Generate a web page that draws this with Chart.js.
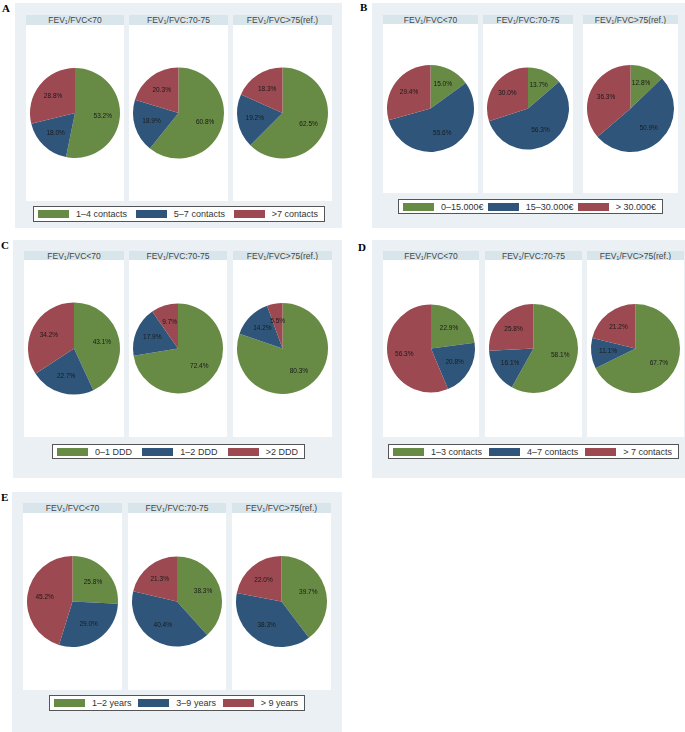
<!DOCTYPE html>
<html>
<head>
<meta charset="utf-8">
<script src="https://cdn.jsdelivr.net/npm/chart.js@4.4.1/dist/chart.umd.min.js"></script>
<style>
  body { margin: 0; width: 685px; height: 732px; background: #fff; position: relative; overflow: hidden;
         font-family: "Liberation Sans", Arial, sans-serif; }
  .letter { position: absolute; font-family: "Liberation Serif", "Times New Roman", serif; font-weight: bold; font-size: 11px; color: #000; }
  .box { position: absolute; background: #eaf0f3; }
  .head { position: absolute; background: #d8e6eb; color: #444; font-size: 8.5px; font-weight: normal; text-align: center; line-height: 10px; white-space: nowrap; }
  .head sub { font-size: 5.5px; vertical-align: -1px; line-height: 0; }
  .cell { position: absolute; background: #fff; }
  .legend { position: absolute; background: #fff; border: 1px solid #555; box-sizing: border-box;
            display: flex; justify-content: space-between; align-items: center; padding: 0 6px 0 4px; }
  .item { display: flex; align-items: center; font-size: 9px; color: #333; white-space: nowrap; }
  .sw { width: 31px; height: 8px; margin-right: 7px; flex: none; }
</style>
</head>
<body>
<script>
// groups (same for every panel)
const groups = ["FEV<sub>1</sub>/FVC&lt;70", "FEV<sub>1</sub>/FVC:70-75", "FEV<sub>1</sub>/FVC&gt;75(ref.)"];
const colors = ["#678a45", "#2f567a", "#9c4951"];

// A: contacts
const catsA = ["1–4 contacts", "5–7 contacts", ">7 contacts"];
const valsA = [[53.2, 18.0, 28.8], [60.8, 18.9, 20.3], [62.5, 19.2, 18.3]];
// B: income
const catsB = ["0–15.000€", "15–30.000€", "> 30.000€"];
const valsB = [[15.0, 55.6, 29.4], [13.7, 56.3, 30.0], [12.8, 50.9, 36.3]];
// C: DDD
const catsC = ["0–1 DDD", "1–2 DDD", ">2 DDD"];
const valsC = [[43.1, 22.7, 34.2], [72.4, 17.9, 9.7], [80.3, 14.2, 5.5]];
// D: contacts
const catsD = ["1–3 contacts", "4–7 contacts", "> 7 contacts"];
const valsD = [[22.9, 20.8, 56.3], [58.1, 16.1, 25.8], [67.7, 11.1, 21.2]];
// E: years
const catsE = ["1–2 years", "3–9 years", "> 9 years"];
const valsE = [[25.8, 29.0, 45.2], [38.3, 40.4, 21.3], [39.7, 38.3, 22.0]];

// layout of each panel (pixels)
const panels = [
  { letter: "A", lx: 2, ly: 2, box: [15, 3, 327, 225], head: [15, 25],
    cells: [[26, 124], [129, 228], [233, 332]], bottom: 201, leg: [33, 206, 292, 16], cats: catsA, vals: valsA },
  { letter: "B", lx: 360, ly: 1, box: [372, 3, 313, 225], head: [15, 24],
    cells: [[383, 478], [483, 573], [583, 678]], bottom: 193, leg: [398, 199, 265, 15], cats: catsB, vals: valsB },
  { letter: "C", lx: 1, ly: 239, box: [13, 240, 329, 238], head: [251, 260],
    cells: [[24, 124], [129, 227], [233, 332]], bottom: 437, leg: [52, 444, 253, 15], cats: catsC, vals: valsC },
  { letter: "D", lx: 358, ly: 241, box: [372, 240, 313, 238], head: [251, 260],
    cells: [[383, 479], [485, 582], [587, 684]], bottom: 437, leg: [388, 444, 291, 15], cats: catsD, vals: valsD },
  { letter: "E", lx: 1, ly: 491, box: [12, 492, 330, 240], head: [503, 513],
    cells: [[23, 122], [128, 226], [232, 331]], bottom: 690, leg: [49, 695, 256, 16], cats: catsE, vals: valsE }
];

// percentage labels inside the slices
const pctLabels = {
  id: "pctLabels",
  afterDatasetsDraw(chart) {
    const ctx = chart.ctx;
    const ds = chart.data.datasets[0];
    chart.getDatasetMeta(0).data.forEach((arc, i) => {
      const mid = (arc.startAngle + arc.endAngle) / 2;
      const r = arc.outerRadius * 0.62;
      ctx.save();
      ctx.fillStyle = "#1a1a1a";
      ctx.font = "6.5px 'Liberation Sans', Arial, sans-serif";
      ctx.textAlign = "center";
      ctx.textBaseline = "middle";
      ctx.fillText(ds.data[i].toFixed(1) + "%", arc.x + Math.cos(mid) * r, arc.y + Math.sin(mid) * r);
      ctx.restore();
    });
  }
};

function el(cls, x, y, w, h, html) {
  const d = document.createElement("div");
  d.className = cls;
  d.style.left = x + "px"; d.style.top = y + "px";
  if (w != null) d.style.width = w + "px";
  if (h != null) d.style.height = h + "px";
  if (html != null) d.innerHTML = html;
  document.body.appendChild(d);
  return d;
}

panels.forEach(p => {
  el("box", p.box[0], p.box[1], p.box[2], p.box[3]);
  el("letter", p.lx, p.ly, null, null, p.letter);
  p.cells.forEach((c, k) => {
    const w = c[1] - c[0];
    el("head", c[0], p.head[0], w, p.head[1] - p.head[0], groups[k]);
    const cell = el("cell", c[0], p.head[1], w, p.bottom - p.head[1]);
    const cv = document.createElement("canvas");
    cell.appendChild(cv);
    new Chart(cv.getContext("2d"), {
      type: "pie",
      data: {
        labels: p.cats,
        datasets: [{ data: p.vals[k], backgroundColor: colors, borderWidth: 0 }]
      },
      options: {
        responsive: true,
        maintainAspectRatio: false,
        animation: false,
        layout: { padding: 4 },
        plugins: { legend: { display: false }, tooltip: { enabled: false } }
      },
      plugins: [pctLabels]
    });
  });
  const leg = el("legend", p.leg[0], p.leg[1], p.leg[2], p.leg[3]);
  p.cats.forEach((name, i) => {
    const it = document.createElement("div");
    it.className = "item";
    it.innerHTML = '<span class="sw" style="background:' + colors[i] + '"></span>' + name;
    leg.appendChild(it);
  });
});
</script>
</body>
</html>
